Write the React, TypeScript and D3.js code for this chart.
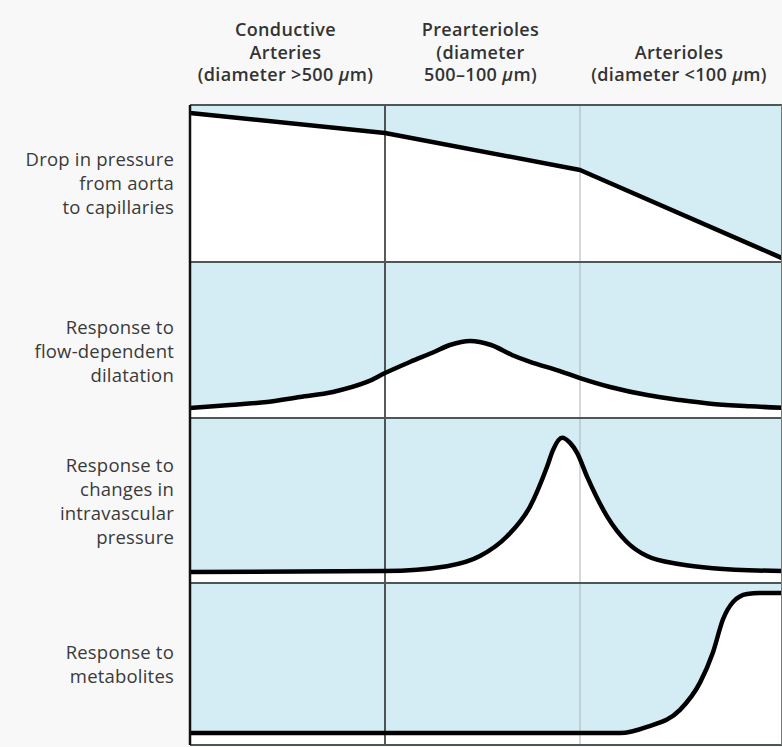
import React from "react";
import * as d3 from "d3";

// ---------- DATA ----------
// x: position along the vascular tree (0–1 conductive arteries, 1–2 prearterioles, 2–3 arterioles)
// y: relative magnitude within each panel (0 = panel bottom, 1 = panel top)
const columnHeaders: string[][] = [
  ["Conductive", "Arteries", "(diameter >500 μm)"],
  ["Prearterioles", "(diameter", "500–100 μm)"],
  ["Arterioles", "(diameter <100 μm)"],
];

const rowLabels: string[][] = [
  ["Drop in pressure", "from aorta", "to capillaries"],
  ["Response to", "flow-dependent", "dilatation"],
  ["Response to", "changes in", "intravascular", "pressure"],
  ["Response to", "metabolites"],
];

const pressureX = [0, 1, 2, 3];
const pressureY = [0.949, 0.822, 0.586, 0.025];

const flowX = [0, 0.205, 0.395, 0.564, 0.733, 0.908, 1, 1.128, 1.246, 1.333, 1.436, 1.544, 1.651, 1.744, 1.897, 2, 2.149, 2.332, 2.495, 2.658, 2.842, 3];
const flowY = [0.064, 0.083, 0.103, 0.135, 0.167, 0.231, 0.288, 0.359, 0.42, 0.468, 0.494, 0.468, 0.404, 0.36, 0.301, 0.256, 0.199, 0.147, 0.115, 0.09, 0.075, 0.066];

const pressureRespX = [0, 1, 1.318, 1.487, 1.626, 1.744, 1.831, 1.862, 1.908, 1.949, 1.985, 2.035, 2.134, 2.233, 2.332, 2.495, 2.658, 3];
const pressureRespY = [0.066, 0.072, 0.102, 0.163, 0.283, 0.464, 0.705, 0.807, 0.88, 0.849, 0.789, 0.645, 0.404, 0.247, 0.163, 0.114, 0.09, 0.072];

const metaboliteX = [0, 1, 2, 2.198, 2.332, 2.495, 2.594, 2.658, 2.708, 2.757, 2.827, 2.891, 3];
const metaboliteY = [0.074, 0.074, 0.074, 0.074, 0.112, 0.217, 0.385, 0.571, 0.776, 0.882, 0.932, 0.938, 0.938];

const series = [
  { x: pressureX, y: pressureY, curve: "linear" },
  { x: flowX, y: flowY, curve: "catmull" },
  { x: pressureRespX, y: pressureRespY, curve: "monotone" },
  { x: metaboliteX, y: metaboliteY, curve: "monotone" },
];

// ---------- LAYOUT ----------
const W = 782;
const H = 747;
const colEdges = [190, 385, 580, 782];
const rowEdges = [105, 262, 418, 583, 745];
const labelCenters = [184, 352, 502, 665];
const headerBaselines = [36, 58.5, 81];
const BLUE = "#d4ecf4";
const BG = "#f8f8f8";
const FONT = "'Open Sans', 'Noto Sans', sans-serif";

const xScale = d3.scaleLinear().domain([0, 1, 2, 3]).range(colEdges);

function renderMu(text: string) {
  const parts = text.split("μ");
  if (parts.length === 1) return text;
  return (
    <>
      {parts[0]}
      <tspan fontStyle="italic">μ</tspan>
      {parts[1]}
    </>
  );
}

function curveFor(kind: string) {
  if (kind === "linear") return d3.curveLinear;
  if (kind === "catmull") return d3.curveCatmullRom.alpha(0.5);
  return d3.curveMonotoneX;
}

export default function App() {
  const left = colEdges[0];
  const right = colEdges[3];
  return (
    <svg
      width={W}
      height={H}
      style={{ position: "absolute", left: 0, top: 0, display: "block" }}
    >
      <rect x={0} y={0} width={W} height={H} fill={BG} />

      {/* Column headers */}
      {columnHeaders.map((lines, ci) => {
        const cx = (colEdges[ci] + colEdges[ci + 1]) / 2 - 2;
        const start = headerBaselines.length - lines.length;
        return (
          <text
            key={ci}
            textAnchor="middle"
            fontFamily={FONT}
            fontWeight={600}
            fontSize={18}
            letterSpacing={0.35}
            fill="#333"
          >
            {lines.map((l, li) => (
              <tspan key={li} x={cx} y={headerBaselines[start + li]}>
                {renderMu(l)}
              </tspan>
            ))}
          </text>
        );
      })}

      {/* Panels */}
      {series.map((s, ri) => {
        const top = rowEdges[ri];
        const bottom = rowEdges[ri + 1];
        const yScale = d3.scaleLinear().domain([0, 1]).range([bottom, top]);
        const pts: [number, number][] = s.x.map((v, i) => [v, s.y[i]]);
        const curve = curveFor(s.curve);
        const area = d3
          .area<[number, number]>()
          .x((d) => xScale(d[0]))
          .y0(bottom)
          .y1((d) => yScale(d[1]))
          .curve(curve);
        const line = d3
          .line<[number, number]>()
          .x((d) => xScale(d[0]))
          .y((d) => yScale(d[1]))
          .curve(curve);
        const labels = rowLabels[ri];
        const lh = 24;
        const cy = labelCenters[ri];
        const firstY = cy - ((labels.length - 1) * lh) / 2 + 6;
        return (
          <g key={ri}>
            <rect x={left} y={top} width={right - left} height={bottom - top} fill={BLUE} />
            <path d={area(pts) || ""} fill="#ffffff" />
            <text
              textAnchor="end"
              fontFamily={FONT}
              fontSize={18.5}
              letterSpacing={0.2}
              fill="#3a3a3a"
            >
              {labels.map((l, li) => (
                <tspan key={li} x={174} y={firstY + li * lh}>
                  {l}
                </tspan>
              ))}
            </text>
            <g className="lines">
              <line x1={colEdges[2]} x2={colEdges[2]} y1={top} y2={bottom} stroke="#a9b4b8" strokeWidth={1} />
              <line x1={colEdges[1]} x2={colEdges[1]} y1={top} y2={bottom} stroke="#222" strokeWidth={1.5} />
            </g>
            <path
              d={line(pts) || ""}
              fill="none"
              stroke="#000"
              strokeWidth={4.5}
              strokeLinejoin="round"
              strokeLinecap="butt"
            />
          </g>
        );
      })}

      {/* Horizontal separators */}
      {rowEdges.map((y, i) => (
        <line key={i} x1={left} x2={right} y1={y} y2={y} stroke="#4d5659" strokeWidth={2} />
      ))}
      <line x1={left} x2={left} y1={rowEdges[0]} y2={rowEdges[4]} stroke="#111" strokeWidth={2.5} />
      <line x1={right - 0.5} x2={right - 0.5} y1={rowEdges[0]} y2={rowEdges[4]} stroke="#777" strokeWidth={1} />
    </svg>
  );
}
